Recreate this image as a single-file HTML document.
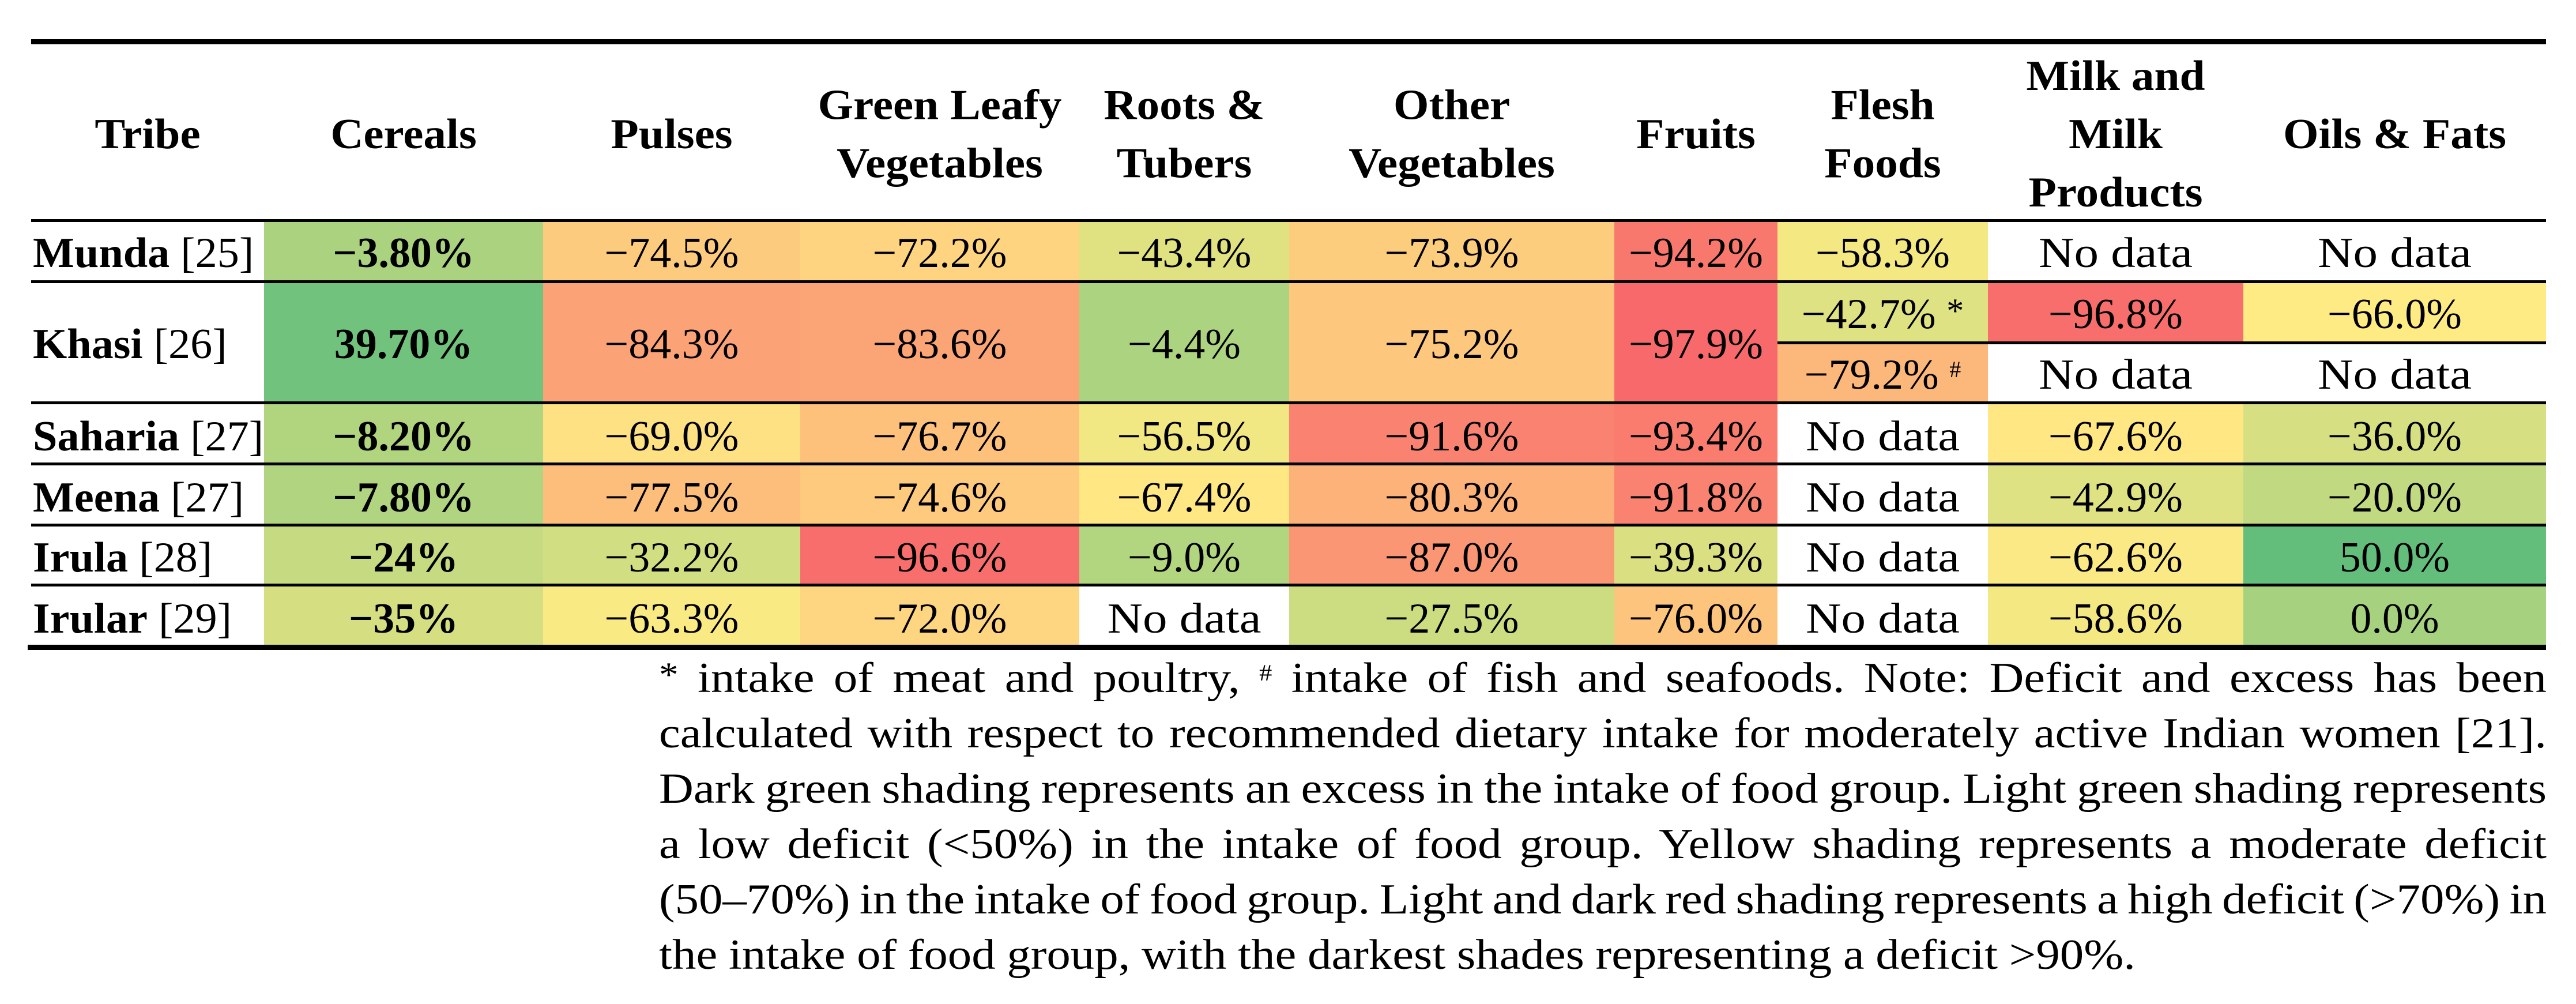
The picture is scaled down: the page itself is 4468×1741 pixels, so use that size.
<!DOCTYPE html>
<html lang="en">
<head>
<meta charset="utf-8">
<title>Dietary intake deficit and excess by tribe</title>
<style>
  html, body { margin: 0; padding: 0; background: #fff; }
  #page { position: relative; width: 4468px; height: 1741px; overflow: hidden; background: #fff; font-family: "Liberation Serif", serif; color: #000; }
  #table-svg { position: absolute; left: 0; top: 0; }
  #table-svg text { font-family: "Liberation Serif", serif; font-size: 74px; fill: #000; }
  #footnote { position: absolute; left: 1143px; top: 1128px; width: 3274px; font-size: 74px; line-height: 96px; }
  #footnote .fn-line { height: 96px; white-space: nowrap; }
  #footnote .fn-text { display: inline-block; white-space: pre; transform-origin: 0 0; }
  #footnote sup { line-height: 0; }
  #footnote sup.star { font-size: 60px; vertical-align: 10px; }
  #footnote sup.hash { font-size: 40px; vertical-align: 20px; }
</style>
</head>
<body>
<div id="page">
  <svg id="table-svg" width="4468" height="1741" viewBox="0 0 4468 1741" xmlns="http://www.w3.org/2000/svg"></svg>
  <div id="footnote">
    <div class="fn-line"><span class="fn-text"><sup class="star">*</sup> intake of meat and poultry, <sup class="hash">#</sup> intake of fish and seafoods. Note: Deficit and excess has been</span></div>
    <div class="fn-line"><span class="fn-text">calculated with respect to recommended dietary intake for moderately active Indian women [21].</span></div>
    <div class="fn-line"><span class="fn-text">Dark green shading represents an excess in the intake of food group. Light green shading represents</span></div>
    <div class="fn-line"><span class="fn-text">a low deficit (&lt;50%) in the intake of food group. Yellow shading represents a moderate deficit</span></div>
    <div class="fn-line"><span class="fn-text">(50–70%) in the intake of food group. Light and dark red shading represents a high deficit (&gt;70%) in</span></div>
    <div class="fn-line"><span class="fn-text">the intake of food group, with the darkest shades representing a deficit &gt;90%.</span></div>
  </div>
</div>
<script>
// ---- data ----
const tribes = ["Munda", "Khasi", "Saharia", "Meena", "Irula", "Irular"];
const tribeRefs = ["[25]", "[26]", "[27]", "[27]", "[28]", "[29]"];
const headerLines = [
  ["Tribe"], ["Cereals"], ["Pulses"], ["Green Leafy", "Vegetables"], ["Roots &", "Tubers"],
  ["Other", "Vegetables"], ["Fruits"], ["Flesh", "Foods"], ["Milk and", "Milk", "Products"], ["Oils & Fats"]
];
// A nested pair means the Khasi row is split into two stacked cells; null means "No data".
const cereals = [-3.8, 39.7, -8.2, -7.8, -24, -35];
const cerealDecimals = [2, 2, 2, 2, 0, 0];
const pulses = [-74.5, -84.3, -69.0, -77.5, -32.2, -63.3];
const greenLeafy = [-72.2, -83.6, -76.7, -74.6, -96.6, -72.0];
const rootsTubers = [-43.4, -4.4, -56.5, -67.4, -9.0, null];
const otherVegetables = [-73.9, -75.2, -91.6, -80.3, -87.0, -27.5];
const fruits = [-94.2, -97.9, -93.4, -91.8, -39.3, -76.0];
const fleshFoods = [-58.3, [-42.7, -79.2], null, null, null, null];
const fleshMarks = ["*", "#"];
const milkProducts = [null, [-96.8, null], -67.6, -42.9, -62.6, -58.6];
const oilsFats = [null, [-66.0, null], -36.0, -20.0, 50.0, 0.0];
const seriesList = [cereals, pulses, greenLeafy, rootsTubers, otherVegetables, fruits, fleshFoods, milkProducts, oilsFats];

// ---- layout (axis functions) ----
const columnEdges = [54, 458, 942, 1388, 1872, 2236, 2800, 3083, 3448, 3891, 4416];
const rowEdges = [385, 491, 701, 807, 913, 1017, 1118];
const ruleHeight = 5;
const rowTextShift = [27.5, 27.5, 29.5, 29.5, 28.5, 29.5];
const splitRule = 592;
const headerStretch = 1.07;
const labelStretch = 1.03;
const noDataStretch = 1.15;
const footnoteStretch = 1.12;
const footnoteFullWidth = 3274;
const footnoteLastWidth = 2561;

function xLeft(col) { return columnEdges[col]; }
function xRight(col) { return columnEdges[col + 1]; }
function xCenter(col) { return (xLeft(col) + xRight(col)) / 2; }
function yTop(row) { return rowEdges[row]; }
function yBottom(row) { return row === rowEdges.length - 2 ? rowEdges[row + 1] : rowEdges[row + 1] - ruleHeight; }

// ---- colour scale (three-colour, min / median / max across all values) ----
const allValues = seriesList.flat(2).filter(function (v) { return v !== null; }).sort(function (a, b) { return a - b; });
const scaleMin = allValues[0];
const scaleMax = allValues[allValues.length - 1];
const scaleMid = (allValues[Math.floor((allValues.length - 1) / 2)] + allValues[Math.ceil((allValues.length - 1) / 2)]) / 2;
const lowColor = [248, 105, 107];
const midColor = [255, 235, 132];
const highColor = [99, 190, 123];

function colorFor(v) {
  if (v === null) return "#ffffff";
  const useLow = v <= scaleMid;
  const t = useLow ? (v - scaleMin) / (scaleMid - scaleMin) : (v - scaleMid) / (scaleMax - scaleMid);
  const a = useLow ? lowColor : midColor;
  const b = useLow ? midColor : highColor;
  const c = a.map(function (x, i) { return Math.round(x + (b[i] - x) * t); });
  return "rgb(" + c.join(",") + ")";
}

function formatValue(v, decimals) {
  if (v === null) return "No data";
  return (v < 0 ? "\u2212" : "") + Math.abs(v).toFixed(decimals) + "%";
}

// ---- drawing ----
const svg = document.getElementById("table-svg");
const NS = "http://www.w3.org/2000/svg";

function drawRect(name, x, y, w, h, fill) {
  const el = document.createElementNS(NS, "rect");
  
  
  el.setAttribute("x", x);
  el.setAttribute("y", y);
  el.setAttribute("width", w);
  el.setAttribute("height", h);
  el.setAttribute("fill", fill);
  svg.appendChild(el);
  return el;
}

function drawText(name, str, x, y, anchor, bold, stretch) {
  const el = document.createElementNS(NS, "text");
  
  
  el.setAttribute("x", x);
  el.setAttribute("y", y);
  el.setAttribute("text-anchor", anchor);
  if (bold) el.setAttribute("font-weight", "bold");
  if (stretch && stretch !== 1) el.setAttribute("transform", "matrix(" + stretch + " 0 0 1 " + (x * (1 - stretch)) + " 0)");
  el.textContent = str;
  svg.appendChild(el);
  return el;
}

function addMark(textEl, mark) {
  const big = mark === "*";
  const gap = document.createElementNS(NS, "tspan");
  gap.textContent = " ";
  textEl.appendChild(gap);
  const t = document.createElementNS(NS, "tspan");
  
  
  t.setAttribute("font-size", big ? 60 : 40);
  t.setAttribute("dy", big ? -10 : -20);
  t.textContent = mark;
  textEl.appendChild(t);
}

function slug(s) { return s.toLowerCase().replace(/[^a-z0-9]+/g, "-").replace(/-+$/, ""); }
function valueStretch(v) { return v === null ? noDataStretch : 1; }

// header
headerLines.forEach(function (lines, col) {
  lines.forEach(function (line, i) {
    const baseline = 257 + (i - (lines.length - 1) / 2) * 101;
    drawText("header-" + slug(lines.join(" ")) + "-line-" + (i + 1), line, xCenter(col), baseline, "middle", true, headerStretch);
  });
});

// body cells
tribes.forEach(function (tribe, row) {
  const label = drawText("row-label-" + slug(tribe), tribe, 57, (yTop(row) + yBottom(row)) / 2 + rowTextShift[row], "start", true, labelStretch);
  const ref = document.createElementNS(NS, "tspan");
  
  
  ref.setAttribute("font-weight", "normal");
  ref.textContent = " " + tribeRefs[row];
  label.appendChild(ref);

  seriesList.forEach(function (series, s) {
    const col = s + 1;
    const entry = series[row];
    const colName = slug(headerLines[col].join(" "));
    const decimals = series === cereals ? cerealDecimals[row] : 1;
    const x = xLeft(col), w = xRight(col) - xLeft(col);
    if (Array.isArray(entry)) {
      entry.forEach(function (v, k) {
        const top = k === 0 ? yTop(row) : splitRule + ruleHeight;
        const bottom = k === 0 ? splitRule : yBottom(row);
        const name = "cell-" + slug(tribe) + "-" + colName + "-" + (k + 1);
        drawRect(name, x, top, w, bottom - top, colorFor(v));
        const t = drawText(name + "-value", formatValue(v, decimals), xCenter(col), (top + bottom) / 2 + 27.5, "middle", false, valueStretch(v));
        if (series === fleshFoods) addMark(t, fleshMarks[k]);
      });
    } else {
      const name = "cell-" + slug(tribe) + "-" + colName;
      drawRect(name, x, yTop(row), w, yBottom(row) - yTop(row), colorFor(entry));
      drawText(name + "-value", formatValue(entry, decimals), xCenter(col), (yTop(row) + yBottom(row)) / 2 + rowTextShift[row], "middle", series === cereals, valueStretch(entry));
    }
  });
});

// rules
drawRect("table-top-rule", 54, 68, 4362, 8.5, "#000");
drawRect("header-bottom-rule", 54, 380, 4362, ruleHeight, "#000");
for (let r = 1; r < rowEdges.length - 1; r++) {
  drawRect("row-rule-" + r, 54, rowEdges[r] - ruleHeight, 4362, ruleHeight, "#000");
}
drawRect("khasi-split-rule", columnEdges[7], splitRule, columnEdges[10] - columnEdges[7], ruleHeight, "#000");
drawRect("table-bottom-rule", 48, 1118, 4368, 9, "#000");

// footnote: horizontally widen the glyphs and fit each line by its word spacing
const footnoteLines = Array.from(document.querySelectorAll("#footnote .fn-text"));
footnoteLines.forEach(function (span, i) {
  const target = (i === footnoteLines.length - 1 ? footnoteLastWidth : footnoteFullWidth) / footnoteStretch;
  const spaces = span.textContent.split(" ").length - 1;
  const natural = span.getBoundingClientRect().width;
  span.style.wordSpacing = ((target - natural) / spaces) + "px";
  span.style.transform = "scaleX(" + footnoteStretch + ")";
});
</script>
</body>
</html>
